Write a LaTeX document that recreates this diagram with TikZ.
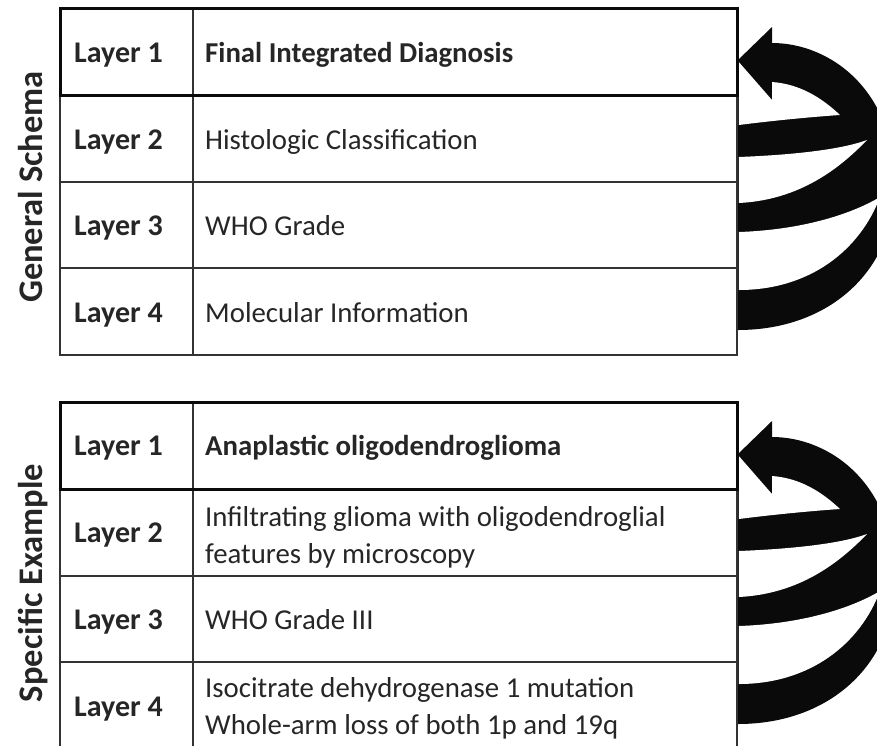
\documentclass[tikz,border=0pt]{standalone}
\usepackage{fontspec}
\setmainfont{Carlito}
\definecolor{ink}{HTML}{0A0A0A}
\definecolor{rule}{HTML}{333333}
\definecolor{txt}{HTML}{262626}
\begin{document}
\begin{tikzpicture}[x=1pt,y=-1pt,
  grid/.style={draw=rule,line width=1.6pt},
  headrow/.style={draw=ink,line width=3pt},
  cell/.style={anchor=base west,inner sep=0pt,text=txt,font=\fontsize{28.8}{37}\selectfont},
  cellbold/.style={cell,font=\fontsize{28.8}{37}\selectfont\bfseries},
  layerlbl/.style={cell,font=\fontsize{30}{37}\selectfont\bfseries},
  cellmulti/.style={anchor=west,inner sep=0pt,text=txt,align=left,font=\fontsize{28.8}{37}\selectfont},
  sidelbl/.style={anchor=base,inner sep=0pt,rotate=90,text=txt,font=\fontsize{34.5}{40}\selectfont\bfseries},
  % the curved "feeds into layer 1" arrow on the right of each table
  feedback/.pic={
    \fill[ink] (738,60) -- (772,27) -- (772,43)
      .. controls (830,43) and (895,90) .. (895,185)
      .. controls (895,270) and (830,330) .. (738,330) -- cycle;
    % gaps between the bands
    \fill[white] (738.8,62) -- (772,100) -- (772,82)
      .. controls (800,84) and (822,98) .. (840,115)
      .. controls (810,117) and (770,121) .. (738.8,125) -- cycle;
    \fill[white] (738.8,157)
      .. controls (790,155) and (840,150) .. (867,140)
      .. controls (840,168) and (800,200) .. (738.8,203) -- cycle;
    \fill[white] (738.8,232)
      .. controls (800,230) and (850,215) .. (880,197)
      .. controls (860,250) and (810,290) .. (738.8,290) -- cycle;
  },
  % four-row table frame with the first row outlined heavily
  layertable/.pic={
    \draw[grid] (60,0) rectangle (737,347);
    \draw[grid] (60,174) -- (737,174);
    \draw[grid] (60,260) -- (737,260);
    \draw[grid] (193,0) -- (193,347);
    \draw[grid] (60,87) -- (737,87);
    \draw[headrow] (60,0) rectangle (737,87);
  }
]
\useasboundingbox (0,0) rectangle (877,745);
\clip (0,0) rectangle (877,745);
\fill[white] (0,0) rectangle (877,745);

\pic (fbA) at (0,0) {feedback};
\pic (fbB) at (0,394) {feedback};

\pic (tabA) at (0,8) {layertable};
\pic (tabB) at (0,402) {layertable};

% General schema
\node[sidelbl] (gside) at (42,187) {General Schema};
\node[layerlbl] (gL1) at (74,62) {Layer 1};
\node[layerlbl] (gL2) at (74,149) {Layer 2};
\node[layerlbl] (gL3) at (74,235.5) {Layer 3};
\node[layerlbl] (gL4) at (74,322) {Layer 4};
\node[cellbold] (gC1) at (205,62) {Final Integrated Diagnosis};
\node[cell] (gC2) at (205,149) {Histologic Classification};
\node[cell] (gC3) at (205,235.5) {WHO Grade};
\node[cell] (gC4) at (205,322) {Molecular Information};

% Specific example
\node[sidelbl] (sside) at (42,583) {Specific Example};
\node[layerlbl] (sL1) at (74,455.5) {Layer 1};
\node[layerlbl] (sL2) at (74,542) {Layer 2};
\node[layerlbl] (sL3) at (74,629) {Layer 3};
\node[layerlbl] (sL4) at (74,716) {Layer 4};
\node[cellbold] (sC1) at (205,455.5) {Anaplastic oligodendroglioma};
\node[cellmulti] (sC2) at (205,537.5) {Infiltrating glioma with oligodendroglial\\features by microscopy};
\node[cell] (sC3) at (205,629) {WHO Grade III};
\node[cellmulti] (sC4) at (205,708.5) {Isocitrate dehydrogenase 1 mutation\\Whole-arm loss of both 1p and 19q};
\end{tikzpicture}
\end{document}
